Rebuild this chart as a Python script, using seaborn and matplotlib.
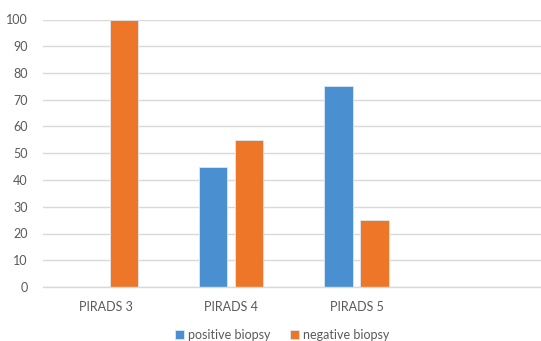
import matplotlib
matplotlib.use("Agg")
import matplotlib.pyplot as plt
import seaborn as sns
import pandas as pd

categories = ["PIRADS 3", "PIRADS 4", "PIRADS 5"]
series = ["positive biopsy", "negative biopsy"]
positive = [0, 45, 75]
negative = [100, 55, 25]
y_ticks = [0, 10, 20, 30, 40, 50, 60, 70, 80, 90, 100]

df = pd.DataFrame({
    "category": categories * 2,
    "series": [series[0]] * 3 + [series[1]] * 3,
    "value": positive + negative,
})

sns.set_theme(style="white")
plt.rcParams["font.family"] = ["Lato", "DejaVu Sans"]

fig = plt.figure(figsize=(5.41, 3.41), dpi=100)
ax = fig.add_axes([43 / 541, 1 - 287 / 341, 1 - 43 / 541, (287 - 19.5) / 341])

palette = {series[0]: "#4A90D0", series[1]: "#ED7628"}
sns.barplot(data=df, x="category", y="value", hue="series", order=categories,
            hue_order=series, palette=palette, width=0.574, gap=0.21,
            edgecolor="#DCE8F5", linewidth=0.6, saturation=1, ax=ax,
            legend=True)

ax.set_xlim(-0.5, 3.47)
ax.set_ylim(0, 100)
ax.set_yticks(y_ticks)
ax.yaxis.grid(True, color="#D9D9D9", linewidth=1.0)
ax.set_axisbelow(True)
for s in ["top", "right", "left"]:
    ax.spines[s].set_visible(False)
ax.spines["bottom"].set_color("#D9D9D9")
ax.spines["bottom"].set_linewidth(1.0)
ax.set_xlabel("")
ax.set_ylabel("")
ax.tick_params(axis="both", length=0, labelsize=9, labelcolor="#595959")
ax.tick_params(axis="x", pad=10)
ax.tick_params(axis="y", pad=11)

handles, labels = ax.get_legend_handles_labels()
ax.legend_.remove()
fig.legend(handles, labels, loc="center", bbox_to_anchor=(282 / 541, 1 - 335 / 341),
           ncol=2, frameon=False, fontsize=9, labelcolor="#595959",
           handlelength=0.7, handleheight=0.7, handletextpad=0.3,
           columnspacing=1.6)

fig.savefig("out.png", dpi=100)
